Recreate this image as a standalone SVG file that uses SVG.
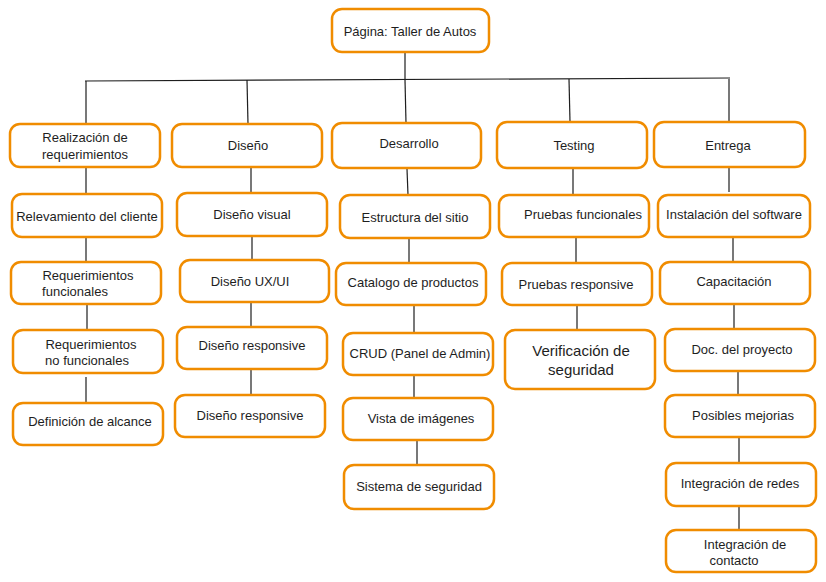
<svg xmlns="http://www.w3.org/2000/svg" width="826" height="582" viewBox="0 0 826 582">
<style>
.b{fill:#fff;stroke:#f08c00;stroke-width:2.5}
.t{font-family:"Liberation Sans",Arial,sans-serif;font-size:13px;fill:#1e1e1e;text-anchor:middle;dominant-baseline:central}
.c line{stroke:#1e1e1e;stroke-width:1.2}
</style>
<rect width="826" height="582" fill="#fff"/>
<g class="c">
<line x1="405" y1="52" x2="405" y2="80"/>
<line x1="85" y1="81" x2="730" y2="78"/>
<line x1="86" y1="81" x2="86" y2="124"/>
<line x1="247" y1="80" x2="248" y2="124"/>
<line x1="405" y1="80" x2="406" y2="123"/>
<line x1="569" y1="79" x2="570" y2="122"/>
<line x1="729" y1="79" x2="729" y2="122"/>
<line x1="86" y1="167" x2="86" y2="194"/>
<line x1="86" y1="237" x2="86" y2="262"/>
<line x1="87" y1="304" x2="87" y2="330"/>
<line x1="86" y1="377" x2="86" y2="403"/>
<line x1="251" y1="167" x2="251" y2="193"/>
<line x1="252" y1="236" x2="252" y2="260"/>
<line x1="251" y1="302" x2="251" y2="327"/>
<line x1="251" y1="369" x2="251" y2="395"/>
<line x1="407" y1="169" x2="408" y2="195"/>
<line x1="409" y1="238" x2="409" y2="263"/>
<line x1="414" y1="305" x2="414" y2="333"/>
<line x1="414" y1="375" x2="414" y2="398"/>
<line x1="417" y1="440" x2="417" y2="465"/>
<line x1="573" y1="168" x2="573" y2="195"/>
<line x1="576" y1="237" x2="576" y2="263"/>
<line x1="577" y1="305" x2="577" y2="330"/>
<line x1="729" y1="167" x2="729" y2="192"/>
<line x1="733" y1="237" x2="733" y2="262"/>
<line x1="734" y1="304" x2="734" y2="329"/>
<line x1="738" y1="371" x2="738" y2="395"/>
<line x1="739" y1="437" x2="739" y2="463"/>
<line x1="739" y1="506" x2="739" y2="530"/>
</g>
<g id="root"><rect class="b" x="332" y="9" width="157" height="43" rx="10"/><text class="t" x="410" y="31">Página: Taller de Autos</text></g>
<g id="n1"><rect class="b" x="10" y="124" width="150" height="43" rx="10"/><text class="t" x="85" y="137">Realización de</text><text class="t" x="85" y="154">requerimientos</text></g>
<g id="n2"><rect class="b" x="172" y="124" width="150" height="43" rx="10"/><text class="t" x="248" y="145">Diseño</text></g>
<g id="n3"><rect class="b" x="332" y="123" width="149" height="45" rx="10"/><text class="t" x="409" y="143">Desarrollo</text></g>
<g id="n4"><rect class="b" x="497" y="122" width="150" height="46" rx="10"/><text class="t" x="574" y="145">Testing</text></g>
<g id="n5"><rect class="b" x="654" y="122" width="151" height="45" rx="10"/><text class="t" x="728" y="145">Entrega</text></g>
<g id="n1a"><rect class="b" x="12" y="194" width="150" height="43" rx="10"/><text class="t" x="87" y="216">Relevamiento del cliente</text></g>
<g id="n1b"><rect class="b" x="11" y="262" width="150" height="42" rx="10"/><text class="t" x="88" y="275">Requerimientos</text><text class="t" x="75" y="291">funcionales</text></g>
<g id="n1c"><rect class="b" x="13" y="330" width="150" height="43" rx="10"/><text class="t" x="91" y="344">Requerimientos</text><text class="t" x="87" y="360">no funcionales</text></g>
<g id="n1d"><rect class="b" x="13" y="403" width="150" height="42" rx="10"/><text class="t" x="90" y="421">Definición de alcance</text></g>
<g id="n2a"><rect class="b" x="177" y="193" width="150" height="43" rx="10"/><text class="t" x="252" y="214">Diseño visual</text></g>
<g id="n2b"><rect class="b" x="180" y="260" width="149" height="42" rx="10"/><text class="t" x="250" y="281">Diseño UX/UI</text></g>
<g id="n2c"><rect class="b" x="177" y="327" width="150" height="42" rx="10"/><text class="t" x="252" y="345">Diseño responsive</text></g>
<g id="n2d"><rect class="b" x="175" y="395" width="150" height="42" rx="10"/><text class="t" x="250" y="415">Diseño responsive</text></g>
<g id="n3a"><rect class="b" x="340" y="195" width="150" height="43" rx="10"/><text class="t" x="415" y="217">Estructura del sitio</text></g>
<g id="n3b"><rect class="b" x="336" y="263" width="150" height="42" rx="10"/><text class="t" x="413" y="282">Catalogo de productos</text></g>
<g id="n3c"><rect class="b" x="343" y="333" width="150" height="42" rx="10"/><text class="t" x="420" y="353">CRUD (Panel de Admin)</text></g>
<g id="n3d"><rect class="b" x="343" y="398" width="150" height="42" rx="10"/><text class="t" x="421" y="418">Vista de imágenes</text></g>
<g id="n3e"><rect class="b" x="344" y="465" width="150" height="44" rx="10"/><text class="t" x="419" y="486">Sistema de seguridad</text></g>
<g id="n4a"><rect class="b" x="499" y="195" width="150" height="42" rx="10"/><text class="t" x="583" y="214">Pruebas funcionales</text></g>
<g id="n4b"><rect class="b" x="502" y="263" width="150" height="42" rx="10"/><text class="t" x="576" y="284">Pruebas responsive</text></g>
<g id="n4c"><rect class="b" x="505" y="330" width="150" height="59" rx="10"/><text class="t" x="581" y="350" style="font-size:15px">Verificación de</text><text class="t" x="581" y="369" style="font-size:15px">seguridad</text></g>
<g id="n5a"><rect class="b" x="658" y="195" width="152" height="42" rx="10"/><text class="t" x="734" y="214">Instalación del software</text></g>
<g id="n5b"><rect class="b" x="660" y="262" width="150" height="42" rx="10"/><text class="t" x="734" y="281">Capacitación</text></g>
<g id="n5c"><rect class="b" x="665" y="329" width="150" height="42" rx="10"/><text class="t" x="742" y="349">Doc. del proyecto</text></g>
<g id="n5d"><rect class="b" x="665" y="395" width="150" height="42" rx="10"/><text class="t" x="743" y="415">Posibles mejorias</text></g>
<g id="n5e"><rect class="b" x="666" y="463" width="150" height="43" rx="10"/><text class="t" x="740" y="483">Integración de redes</text></g>
<g id="n5f"><rect class="b" x="666" y="530" width="150" height="42" rx="10"/><text class="t" x="745" y="544">Integración de</text><text class="t" x="734" y="560">contacto</text></g>
</svg>
